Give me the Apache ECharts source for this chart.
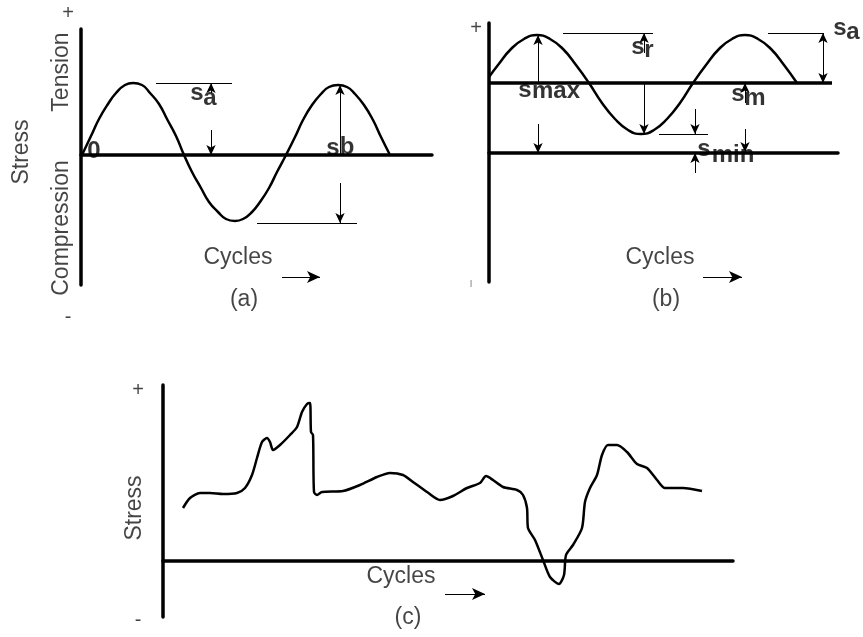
<!DOCTYPE html>
<html>
<head>
<meta charset="utf-8">
<script src="https://cdn.jsdelivr.net/npm/echarts@6/dist/echarts.min.js"></script>
<style>
  html, body { margin: 0; padding: 0; background: #ffffff; }
  #main { width: 863px; height: 637px; }
</style>
</head>
<body>
<div id="main"></div>
<script>
// (a) fully reversed stress cycle
const aCycles = [1, 10, 18, 27, 35, 44, 52, 61, 69, 78, 86, 95, 103,
  111, 120, 128, 137, 145, 154, 162, 171, 179, 188, 196, 205,
  214, 222, 231, 240, 248, 257, 266, 274, 283, 292, 300, 309];
const aStress = [0, 19, 36, 51, 62, 70, 72, 70, 62, 51, 36, 19, 0,
  -17, -33, -47, -57, -64, -66, -64, -57, -47, -33, -17, 0,
  18, 35, 50, 61, 68, 70, 68, 61, 50, 35, 18, 0];

// (b) repeated stress cycle about a tensile mean
const bCycles = [0, 9, 22, 35, 48, 61, 74, 87, 100, 113, 126, 139, 152,
  165, 178, 191, 204, 217, 230, 243, 256, 269, 282, 295, 308];
const bStress = [76, 88, 104, 114, 118, 114, 104, 88, 70, 50, 34, 23, 19,
  23, 34, 50, 70, 88, 104, 114, 118, 114, 104, 88, 70];
const bMean = 70;

// (c) irregular (random) stress history
const cCycles = [20, 27, 37, 47, 60, 74, 82, 89, 94, 99, 104, 107, 110, 117, 127, 134, 139, 144, 147,
  148, 150, 151, 154, 159, 180, 197, 214, 227, 240, 250, 264, 277, 290, 304, 317, 323, 330, 340,
  354, 360, 364, 365, 372, 380, 387, 396, 401, 403, 410, 419, 422, 427, 434, 439, 445, 454, 464,
  474, 484, 494, 502, 520, 539];
const cStress = [53, 63, 68, 68, 67, 68, 73, 86, 103, 119, 123, 119, 111, 116, 126, 134, 149, 157, 158,
  129, 126, 69, 66, 69, 70, 76, 84, 88, 86, 79, 69, 61, 65, 73, 78, 85, 81, 74,
  71, 66, 53, 33, 21, 1, -16, -23, -14, 6, 16, 33, 59, 73, 86, 106, 116, 116, 109,
  97, 93, 81, 73, 73, 70];

const axisTexts = { stress: 'Stress', tension: 'Tension', compression: 'Compression', cycles: 'Cycles', plus: '+', minus: '-' };
const panelTags = ['(a)', '(b)', '(c)'];

const FONT = "'Liberation Sans', Arial, sans-serif";
const INK = '#000000';
const TEXT = '#151515';

function pairs(xs, ys) { return xs.map((x, i) => [x, ys[i]]); }

function axisPair(idx, xMax, yMin, yMax) {
  const common = {
    gridIndex: idx, type: 'value',
    axisLine: { show: true, onZero: true, lineStyle: { color: INK, width: 3.5 } },
    axisTick: { show: false }, axisLabel: { show: false }, splitLine: { show: false }
  };
  return {
    x: Object.assign({}, common, { min: 0, max: xMax }),
    y: Object.assign({}, common, { min: yMin, max: yMax })
  };
}

// guide segment; head: 0 none, 1 arrow at end, 2 arrows at both ends, 3 large arrow at end
function seg(x1, y1, x2, y2, head, width) {
  const small = [7, 10], big = [9, 13];
  const a = { coord: [x1, y1], symbol: head === 2 ? 'arrow' : 'none', symbolSize: small };
  const b = { coord: [x2, y2], symbol: head ? 'arrow' : 'none', symbolSize: head === 3 ? big : small };
  if (width) a.lineStyle = { width: width, color: INK, type: 'solid' };
  return [a, b];
}

function note(t, x, y, opt) {
  opt = opt || {};
  return {
    name: t, value: [x, y],
    label: {
      show: true, position: 'inside', formatter: t,
      rotate: opt.rot || 0,
      fontFamily: FONT,
      fontSize: opt.size || 23,
      fontWeight: opt.bold ? 'bold' : 'normal',
      color: opt.bold ? INK : TEXT,
      align: 'center', verticalAlign: 'middle'
    }
  };
}
const sym = (t, x, y) => note(t, x, y, { bold: true, size: 24 });

function textSeries(idx, items) {
  return {
    type: 'scatter', xAxisIndex: idx, yAxisIndex: idx, symbolSize: 1, clip: false, silent: true, z: 4,
    itemStyle: { color: 'rgba(0,0,0,0)' }, data: items
  };
}

function curveSeries(idx, data, smooth, guides) {
  return {
    type: 'line', xAxisIndex: idx, yAxisIndex: idx, data: data, smooth: smooth,
    showSymbol: false, symbol: 'none', silent: true, z: 3,
    lineStyle: { color: INK, width: 2.5 },
    markLine: {
      silent: true, animation: false, symbol: ['none', 'none'],
      label: { show: false },
      lineStyle: { color: INK, width: 1, type: 'solid' },
      emphasis: { disabled: true },
      data: guides
    }
  };
}

const A = axisPair(0, 351, -130, 126);
const B = axisPair(1, 349, -129, 130);
const C = axisPair(2, 570, -56, 176);

const option = {
  animation: false,
  backgroundColor: '#ffffff',
  grid: [
    { left: 81, top: 29, width: 351, height: 256 },
    { left: 489, top: 23, width: 349, height: 259 },
    { left: 163, top: 385, width: 570, height: 232 }
  ],
  xAxis: [A.x, B.x, C.x],
  yAxis: [A.y, B.y, C.y],
  series: [
    curveSeries(0, pairs(aCycles, aStress), 0.5, [
      seg(75, 72, 151, 72, 0),
      seg(130, 62, 130, 72, 1),
      seg(130, 25, 130, 0, 1),
      seg(259, 0, 259, 70, 1),
      seg(259, -28, 259, -68, 1),
      seg(176, -68, 276, -68, 0),
      seg(201, -122, 239, -122, 3)
    ]),
    textSeries(0, [
      note(axisTexts.stress, -59, 3, { rot: 90 }),
      note(axisTexts.tension, -19, 83, { rot: 90 }),
      note(axisTexts.compression, -19, -73, { rot: 90 }),
      note(axisTexts.plus, -13, 142, { size: 20 }),
      note(axisTexts.minus, -13, -162, { size: 20 }),
      note(axisTexts.cycles, 157, -103),
      note(panelTags[0], 163, -145),
      sym('0', 13, 4),
      sym('s', 116, 62), sym('a', 129, 57),
      sym('s', 252, 7), sym('b', 266, 8)
    ]),
    curveSeries(1, pairs(bCycles, bStress), 0.5, [
      seg(0, bMean, 343, bMean, 0, 3.5),
      seg(74, 120, 164, 120, 0),
      seg(155, 100, 155, 120, 1),
      seg(155, bMean, 155, 19, 1),
      seg(49, bMean, 49, 118, 1),
      seg(49, 29, 49, 0, 1),
      seg(170, 19, 219, 19, 0),
      seg(206, 44, 206, 19, 1),
      seg(206, -20, 206, 0, 1),
      seg(256, 50, 256, bMean, 1),
      seg(256, 24, 256, 1, 1),
      seg(279, 120, 334, 120, 0),
      seg(334, bMean, 334, 120, 2),
      seg(214, -124, 253, -124, 3)
    ]),
    textSeries(1, [
      note(axisTexts.plus, -13, 125, { size: 20 }),
      note('|', -18, -130, { size: 8 }),
      note(axisTexts.cycles, 171, -105),
      note(panelTags[1], 177, -147),
      sym('s', 149, 106), sym('r', 160, 103),
      sym('s', 36, 63), sym('max', 67, 62),
      sym('s', 215, 4), sym('min', 244, -2),
      sym('s', 249, 59), sym('m', 266, 55),
      sym('s', 351, 125), sym('a', 364, 121)
    ]),
    curveSeries(2, pairs(cCycles, cStress), 0.25, [
      seg(282, -33, 322, -33, 3)
    ]),
    textSeries(2, [
      note(axisTexts.stress, -28, 53, { rot: 90 }),
      note(axisTexts.plus, -25, 171, { size: 20 }),
      note(axisTexts.minus, -25, -59, { size: 20 }),
      note(axisTexts.cycles, 238, -16),
      note(panelTags[2], 245, -57)
    ])
  ]
};

const chart = echarts.init(document.getElementById('main'), null, { renderer: 'canvas' });
chart.setOption(option);
</script>
</body>
</html>
